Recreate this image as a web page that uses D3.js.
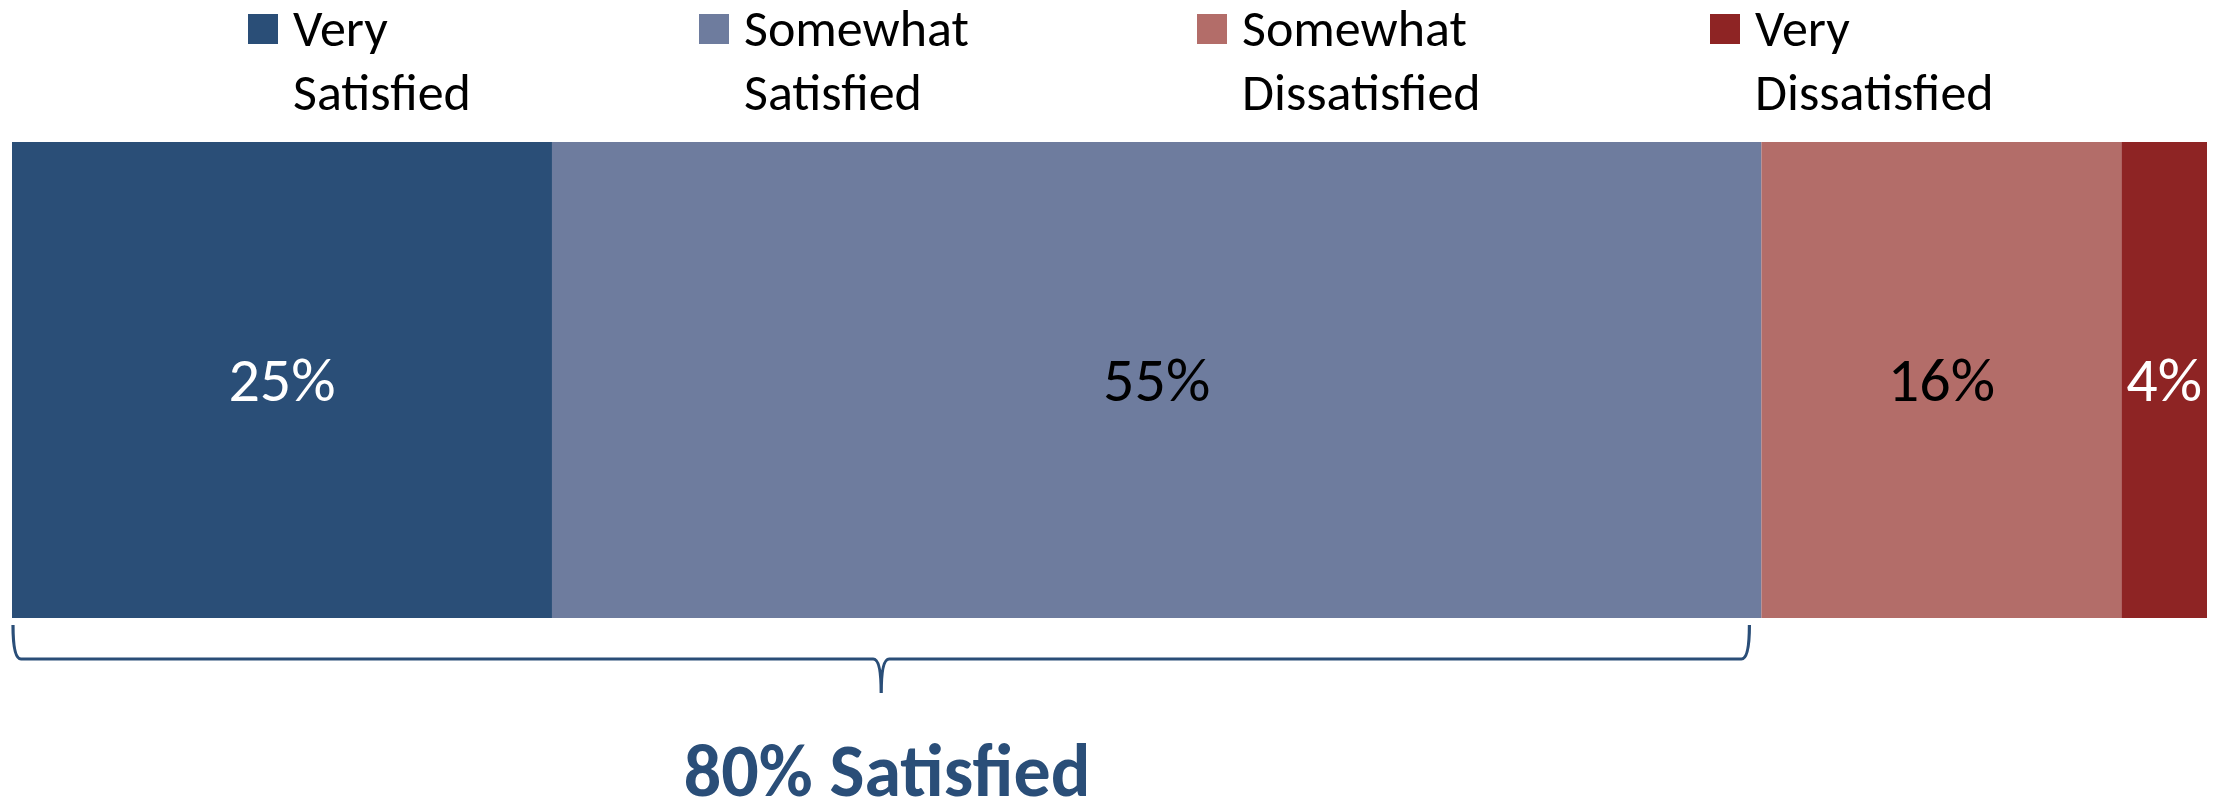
<!DOCTYPE html>
<html>
<head>
<meta charset="utf-8">
<script src="https://cdn.jsdelivr.net/npm/d3@7/dist/d3.min.js"></script>
<style>
  html, body { margin: 0; padding: 0; background: #ffffff; }
  svg { display: block; }
  text { font-family: Carlito, Calibri, Lato, "Open Sans", sans-serif; }
</style>
</head>
<body>
<svg id="chart" width="2216" height="802"></svg>
<script>
// ---- data ----
const categories = ["Very Satisfied", "Somewhat Satisfied", "Somewhat Dissatisfied", "Very Dissatisfied"];
const values = [24.6, 55.1, 16.4, 3.9];
const colors = ["#2a4e77", "#6e7c9e", "#b36d69", "#8e2424"];
const labelColors = ["#ffffff", "#000000", "#000000", "#ffffff"];
const summaryLabel = "80% Satisfied";
const summaryCount = 2; // first two categories grouped by the brace

// ---- layout ----
const W = 2216, H = 802;
const barTop = 142, barBottom = 618;
const legendX = [248, 699, 1197, 1710];

const svg = d3.select("#chart");

const x = d3.scaleLinear().domain([0, d3.sum(values)]).range([12, 2207]);

// cumulative starts
let acc = 0;
const segs = values.map((v, i) => { const s = { i, v, x0: acc, x1: acc + v }; acc += v; return s; });

// bars
svg.append("g").selectAll("rect").data(segs).join("rect")
  .attr("x", d => x(d.x0))
  .attr("y", barTop)
  .attr("width", d => x(d.x1) - x(d.x0))
  .attr("height", barBottom - barTop)
  .attr("fill", d => colors[d.i]);

// data labels
svg.append("g").selectAll("text").data(segs).join("text")
  .attr("x", d => (x(d.x0) + x(d.x1)) / 2)
  .attr("y", 401)
  .attr("text-anchor", "middle")
  .attr("font-size", 62)
  .attr("fill", d => labelColors[d.i])
  .text(d => Math.round(d.v) + "%");

// legend
const leg = svg.append("g").selectAll("g").data(categories).join("g")
  .attr("transform", (d, i) => `translate(${legendX[i]},0)`);
leg.append("rect").attr("x", 0).attr("y", 14).attr("width", 30).attr("height", 30)
  .attr("fill", (d, i) => colors[i]);
leg.append("text").attr("x", 45).attr("y", 46).attr("font-size", 52).attr("fill", "#000")
  .text(d => d.slice(0, d.indexOf(" ")));
leg.append("text").attr("x", 45).attr("y", 110).attr("font-size", 52).attr("fill", "#000")
  .text(d => d.slice(d.indexOf(" ") + 1));

// brace
const groupEnd = segs[summaryCount - 1].x1;
const bx0 = x(0) + 1, bx1 = x(groupEnd) - 12;
const by0 = 625, by1 = 659, tipY = 693;
const mid = (bx0 + bx1) / 2;
const r = 8;
const p = d3.path();
p.moveTo(bx0, by0);
p.quadraticCurveTo(bx0, by1, bx0 + r, by1);
p.lineTo(mid - r, by1);
p.quadraticCurveTo(mid, by1, mid, tipY);
p.quadraticCurveTo(mid, by1, mid + r, by1);
p.lineTo(bx1 - r, by1);
p.quadraticCurveTo(bx1, by1, bx1, by0);
svg.append("path").attr("d", p.toString())
  .attr("fill", "none").attr("stroke", "#2a4e78").attr("stroke-width", 3.2);

// summary label
svg.append("text")
  .attr("x", mid + 6).attr("y", 796)
  .attr("text-anchor", "middle")
  .attr("font-size", 74).attr("font-weight", "bold")
  .attr("fill", "#2a4e78")
  .text(summaryLabel);
</script>
</body>
</html>
